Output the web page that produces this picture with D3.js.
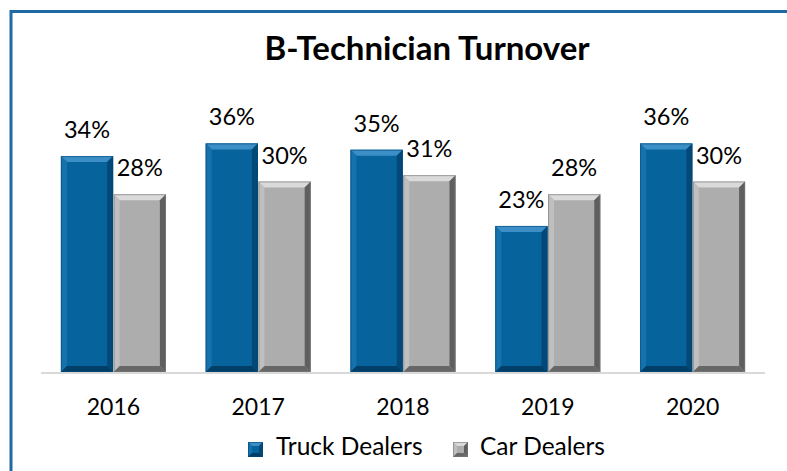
<!DOCTYPE html>
<html>
<head>
<meta charset="utf-8">
<script src="https://cdn.jsdelivr.net/npm/d3@7"></script>
<style>
  html, body { margin: 0; padding: 0; background: #fff; }
  svg { display: block; }
  text { font-family: Lato, "Open Sans", sans-serif; fill: #000; }
</style>
</head>
<body>
<svg id="chart" width="787" height="471"></svg>
<script>
const title = "B-Technician Turnover";
const categories = ["2016", "2017", "2018", "2019", "2020"];
const seriesNames = ["Truck Dealers", "Car Dealers"];
const truckDealers = [34, 36, 35, 23, 36];
const carDealers = [28, 30, 31, 28, 30];

const W = 787, H = 471;
const svg = d3.select("#chart");

// frame (left/top border visible, rest cut off)
svg.append("rect")
  .attr("x", 11).attr("y", 11.5)
  .attr("width", 800).attr("height", 480)
  .attr("fill", "#fff")
  .attr("stroke", "#1f6aa5").attr("stroke-width", 3);

const plot = { left: 41, right: 765, baseline: 372 };

const x0 = d3.scaleBand().domain(categories)
  .range([plot.left, plot.right]).paddingInner(0.275).paddingOuter(0.1375);
const x1 = d3.scaleBand().domain(seriesNames)
  .range([0, x0.bandwidth()]).paddingInner(0.01);
const y = d3.scaleLinear().domain([0, 40]).range([plot.baseline, plot.baseline - 254]);

const styles = {
  "Truck Dealers": { base: "#07639c", top: "#3c8fc6", left: "#1672ad", right: "#034876", bottom: "#023f68", edge: "#044a78" },
  "Car Dealers":   { base: "#adadad", top: "#dadada", left: "#bfbfbf", right: "#5f5f5f", bottom: "#676767", edge: "#7a7a7a" }
};

function bevelBar(g, bx, by, bw, bh, st, b) {
  const x2 = bx + bw, y2 = by + bh;
  g.append("rect").attr("x", bx).attr("y", by).attr("width", bw).attr("height", bh).attr("fill", st.base);
  g.append("polygon").attr("points", [[bx,by],[x2,by],[x2-b,by+b],[bx+b,by+b]].join(" ")).attr("fill", st.top);
  g.append("polygon").attr("points", [[bx,by],[bx+b,by+b],[bx+b,y2-b],[bx,y2]].join(" ")).attr("fill", st.left);
  g.append("polygon").attr("points", [[x2,by],[x2,y2],[x2-b,y2-b],[x2-b,by+b]].join(" ")).attr("fill", st.right);
  g.append("polygon").attr("points", [[bx,y2],[x2,y2],[x2-b,y2-b],[bx+b,y2-b]].join(" ")).attr("fill", st.bottom);
  g.append("rect").attr("x", bx + 0.5).attr("y", by + 0.5).attr("width", bw - 1).attr("height", bh - 1)
    .attr("fill", "none").attr("stroke", st.edge).attr("stroke-width", 1).attr("stroke-opacity", 0.6);
}

// baseline
svg.append("line")
  .attr("x1", plot.left).attr("x2", plot.right)
  .attr("y1", plot.baseline + 1).attr("y2", plot.baseline + 1)
  .attr("stroke", "#d9d9d9").attr("stroke-width", 2);

const seriesData = { "Truck Dealers": truckDealers, "Car Dealers": carDealers };
const barsG = svg.append("g");
categories.forEach((c, i) => {
  seriesNames.forEach(s => {
    const v = seriesData[s][i];
    const bx = x0(c) + x1(s);
    const by = y(v);
    const bw = x1.bandwidth();
    const bh = y(0) - y(v);
    bevelBar(barsG, bx, by, bw, bh, styles[s], 6);
    svg.append("text")
      .attr("x", bx + bw / 2).attr("y", by - 18)
      .attr("text-anchor", "middle")
      .attr("font-size", 23.5)
      .text(v + "%");
  });
});

// x axis labels
const xAxis = d3.axisBottom(x0).tickSize(0).tickPadding(0);
const axG = svg.append("g").attr("transform", `translate(0,${plot.baseline + 43})`).call(xAxis);
axG.select(".domain").remove();
axG.selectAll("text").attr("font-size", 23).attr("dy", 0).attr("fill", "#000")
  .style("font-family", "Lato, 'Open Sans', sans-serif");

// title
svg.append("text")
  .attr("x", 427).attr("y", 60)
  .attr("text-anchor", "middle")
  .attr("font-size", 33).attr("font-weight", "bold")
  .text(title);

// legend
const legendItems = [
  { name: "Truck Dealers", mx: 248, tx: 276 },
  { name: "Car Dealers", mx: 453, tx: 480 }
];
legendItems.forEach(it => {
  const g = svg.append("g");
  bevelBar(g, it.mx, 442, 15, 15, styles[it.name], 4);
  svg.append("text").attr("x", it.tx).attr("y", 455)
    .attr("font-size", 24.5).text(it.name);
});
</script>
</body>
</html>
